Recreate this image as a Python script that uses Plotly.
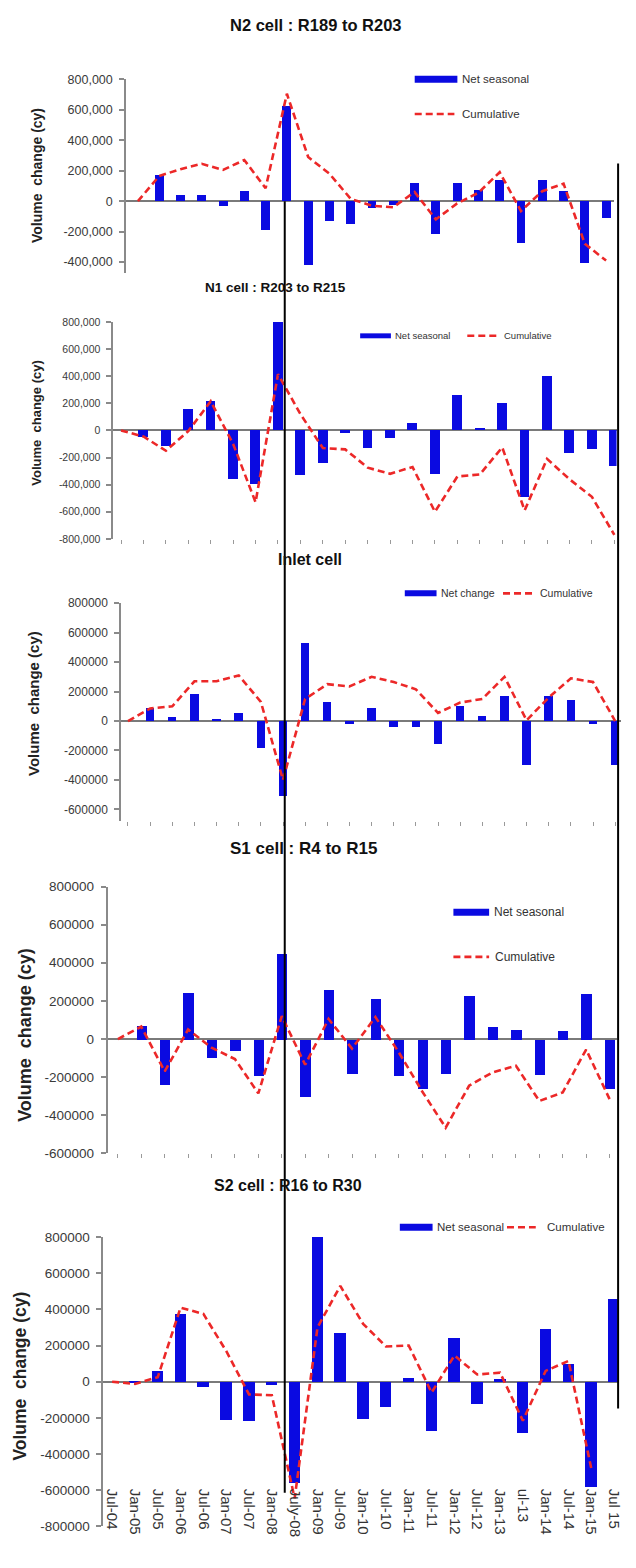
import plotly.graph_objects as go

W, H = 636, 1568

# ---------------- data ----------------
categories = ["Jul-04", "Jan-05", "Jul-05", "Jan-06", "Jul-06", "Jan-07", "Jul-07", "Jan-08",
              "July-08", "Jan-09", "Jul-09", "Jan-10", "Jul-10", "Jan-11", "Jul-11", "Jan-12",
              "Jul-12", "Jan-13", "ul-13", "Jan-14", "Jul-14", "Jan-15", "Jul 15"]

n2_net = [0, 170000, 40000, 40000, -35000, 65000, -190000, 620000, -420000, -130000, -150000,
          -50000, -30000, 120000, -215000, 115000, 70000, 140000, -280000, 135000, 65000,
          -410000, -110000]
n2_cum = [0, 165000, 210000, 245000, 205000, 270000, 85000, 705000, 290000, 180000, 15000,
          -30000, -40000, 60000, -120000, -15000, 55000, 190000, -65000, 65000, 115000,
          -280000, -390000]

n1_net = [0, -50000, -115000, 160000, 220000, -360000, -395000, 800000, -330000, -240000,
          -20000, -130000, -55000, 52000, -320000, 260000, 20000, 200000, -490000, 400000,
          -165000, -140000, -265000]
n1_cum = [0, -45000, -150000, -5000, 215000, -100000, -530000, 415000, 120000, -130000,
          -140000, -275000, -320000, -270000, -600000, -340000, -325000, -125000, -590000,
          -210000, -360000, -490000, -770000]

inlet_net = [0, 85000, 25000, 180000, 10000, 50000, -185000, -510000, 530000, 130000, -20000,
             90000, -45000, -40000, -160000, 100000, 35000, 165000, -300000, 165000, 140000,
             -20000, -300000]
inlet_cum = [0, 85000, 100000, 270000, 270000, 310000, 130000, -400000, 150000, 250000,
             235000, 300000, 265000, 215000, 55000, 125000, 150000, 300000, 5000, 160000,
             290000, 265000, 0]

s1_net = [0, 70000, -240000, 245000, -95000, -60000, -190000, 450000, -300000, 260000,
          -180000, 210000, -190000, -260000, -180000, 230000, 65000, 50000, -185000, 45000,
          240000, -260000]
s1_cum = [0, 65000, -170000, 50000, -45000, -105000, -285000, 120000, -135000, 105000,
          -50000, 115000, -70000, -275000, -465000, -245000, -175000, -140000, -325000,
          -280000, -55000, -315000]

s2_net = [0, -5000, 60000, 375000, -30000, -212000, -220000, -20000, -560000, 800000, 270000,
          -205000, -140000, 20000, -275000, 240000, -125000, 15000, -285000, 290000, 95000,
          -585000, 455000]
s2_cum = [0, -12000, 25000, 410000, 375000, 170000, -70000, -75000, -645000, 300000, 530000,
          320000, 195000, 200000, -60000, 145000, 40000, 50000, -215000, 60000, 115000,
          -480000, None]

titles = ["N2 cell : R189 to R203", "N1 cell : R203 to R215", "Inlet cell",
          "S1 cell : R4 to R15", "S2 cell : R16 to R30"]
bar_names = ["Net seasonal", "Net seasonal", "Net change", "Net seasonal", "Net seasonal"]
line_name = "Cumulative"
y_title = "Volume\u00a0\u00a0change (cy)"

ticks_n2 = [800000, 600000, 400000, 200000, 0, -200000, -400000]
labels_n2 = ["800,000", "600,000", "400,000", "200,000", "0", "-200,000", "-400,000"]
ticks_n1 = [800000, 600000, 400000, 200000, 0, -200000, -400000, -600000, -800000]
labels_n1 = ["800,000", "600,000", "400,000", "200,000", "0", "-200,000", "-400,000",
             "-600,000", "-800,000"]
ticks_inlet = [800000, 600000, 400000, 200000, 0, -200000, -400000, -600000]
labels_inlet = ["800000", "600000", "400000", "200000", "0", "-200000", "-400000", "-600000"]
ticks_s1 = [800000, 600000, 400000, 200000, 0, -200000, -400000, -600000]
labels_s1 = ["800000", "600000", "400000", "200000", "0", "-200000", "-400000", "-600000"]
ticks_s2 = [800000, 600000, 400000, 200000, 0, -200000, -400000, -600000, -800000]
labels_s2 = ["800000", "600000", "400000", "200000", "0", "-200000", "-400000", "-600000",
             "-800000"]

# ---------------- styling / layout geometry (pixels) ----------------
BLUE = "rgb(10,10,225)"
RED = "rgb(236,40,40)"
AX = "#8a8a8a"
FONT = "Liberation Sans, Arial, sans-serif"

panels = [
    dict(net=n2_net, cum=n2_cum, cats=categories, c0=139, s=21.45, r=(-0.56, 22.35),
         yr=(-470000, 800000), ypx=(268.3, 73), tv=ticks_n2, tt=labels_n2, bw=0.42,
         tickfont=12.5, xt="none"),
    dict(net=n1_net, cum=n1_cum, cats=categories, c0=122, s=22.6, r=(-0.35, 22.1),
         yr=(-800000, 800000), ypx=(537, 318), tv=ticks_n1, tt=labels_n1, bw=0.44,
         tickfont=10.5, xt="marks"),
    dict(net=inlet_net, cum=inlet_cum, cats=categories, c0=129, s=22.32, r=(-0.31, 22.27),
         yr=(-680000, 800000), ypx=(822, 602), tv=ticks_inlet, tt=labels_inlet, bw=0.38,
         tickfont=12, xt="marks"),
    dict(net=s1_net, cum=s1_cum, cats=categories[:22], c0=118.8, s=23.6, r=(-0.44, 21.3),
         yr=(-600000, 800000), ypx=(1157.5, 888), tv=ticks_s1, tt=labels_s1, bw=0.44,
         tickfont=13.5, xt="marks"),
    dict(net=s2_net, cum=s2_cum, cats=categories, c0=113, s=23.0, r=(-0.39, 22.16),
         yr=(-800000, 800000), ypx=(1534, 1242), tv=ticks_s2, tt=labels_s2, bw=0.5,
         tickfont=13.5, xt="labels"),
]

fig = go.Figure()
layout = dict(width=W, height=H, margin=dict(l=0, r=0, t=0, b=0), showlegend=False,
              paper_bgcolor="white", plot_bgcolor="white", bargap=0)

for i, p in enumerate(panels):
    k = "" if i == 0 else str(i + 1)
    xa, ya = "x" + k, "y" + k
    fig.add_trace(go.Bar(x=p["cats"], y=p["net"], width=p["bw"], marker_color=BLUE,
                         marker_line_width=0, name=bar_names[i], xaxis=xa, yaxis=ya))
    fig.add_trace(go.Scatter(x=p["cats"], y=p["cum"], mode="lines", name=line_name,
                             line=dict(color=RED, width=2.6, dash="7px,4px"),
                             connectgaps=False, xaxis=xa, yaxis=ya))
    x0 = (p["c0"] + p["r"][0] * p["s"]) / W
    x1 = (p["c0"] + p["r"][1] * p["s"]) / W
    y0 = 1 - p["ypx"][0] / H
    y1 = 1 - p["ypx"][1] / H
    xaxis = dict(domain=[x0, x1], range=list(p["r"]), type="category", anchor=ya,
                 showgrid=False, zeroline=False, showline=False, fixedrange=True)
    if p["xt"] == "none":
        xaxis.update(showticklabels=False, ticks="")
    elif p["xt"] == "marks":
        xaxis.update(showticklabels=False, ticks="outside", ticklen=4, tickwidth=1.2,
                     tickcolor="#9a9a9a")
    else:
        xaxis.update(anchor="free", position=1 - 1495 / H, ticks="", tickangle=90,
                     tickfont=dict(family=FONT, size=15, color="#333333"))
    yaxis = dict(domain=[y0, y1], range=list(p["yr"]), anchor=xa, showgrid=False,
                 zeroline=True, zerolinecolor="#7a7a7a", zerolinewidth=1.6,
                 showline=True, linecolor=AX, linewidth=1.5, ticks="outside", ticklen=5,
                 tickwidth=1.5, tickcolor=AX, tickvals=p["tv"], ticktext=p["tt"],
                 ticklabelstandoff=4,
                 tickfont=dict(family=FONT, size=p["tickfont"], color="#3a3a3a"),
                 fixedrange=True)
    layout["xaxis" + k] = xaxis
    layout["yaxis" + k] = yaxis

fig.update_layout(**layout)

def px(x):
    return x / W

def py(y):
    return 1 - y / H

ann = []
shapes = []

# panel titles
title_pos = [(318, 18, 16.5), (278, 283, 13.5), (312, 558, 16), (306, 850, 17),
             (290, 1190, 16)]
for t, (x, y, fs) in zip(titles, title_pos):
    ann.append(dict(x=px(x), y=py(y), xref="paper", yref="paper", text="<b>" + t + "</b>",
                    showarrow=False, xanchor="center", yanchor="middle",
                    font=dict(family=FONT, size=fs, color="#111111")))

# y-axis titles
ytitle_pos = [(38, 170, 14), (37, 420, 13), (34, 703, 15), (25, 1038, 18), (20, 1382, 17.5)]
for (x, y, fs) in ytitle_pos:
    ann.append(dict(x=px(x), y=py(y), xref="paper", yref="paper",
                    text="<b>" + y_title + "</b>", textangle=-90, showarrow=False,
                    xanchor="center", yanchor="middle",
                    font=dict(family=FONT, size=fs, color="#222222")))

# legends: bar swatch (x0, x1, y, height), dashed swatch (x0, x1, y), text gaps, font size
legends = [
    dict(b=(418, 461, 73, 7), l=(418, 458, 108), g=(3, 6), fs=11.5),
    dict(b=(363, 394, 332, 5), l=(471, 503, 332), g=(2, 3), fs=9.5),
    dict(b=(408, 440, 592, 6), l=(507, 539, 592), g=(2, 3), fs=10.5),
    dict(b=(457, 493, 914, 7), l=(457, 493, 959), g=(3, 4), fs=12),
    dict(b=(403, 436, 1232, 7), l=(511, 540, 1232), g=(2, 9), fs=11.5),
]
for i, lg in enumerate(legends):
    bx0, bx1, by, bh = lg["b"]
    shapes.append(dict(type="rect", xref="paper", yref="paper", x0=px(bx0), x1=px(bx1),
                       y0=py(by + bh / 2), y1=py(by - bh / 2), fillcolor=BLUE,
                       line=dict(width=0)))
    ann.append(dict(x=px(bx1 + lg["g"][0]), y=py(by), xref="paper", yref="paper",
                    text=bar_names[i], showarrow=False, xanchor="left", yanchor="middle",
                    font=dict(family=FONT, size=lg["fs"], color="#333333")))
    lx0, lx1, ly = lg["l"]
    shapes.append(dict(type="line", xref="paper", yref="paper", x0=px(lx0), x1=px(lx1),
                       y0=py(ly), y1=py(ly), line=dict(color=RED, width=2.6, dash="7px,4px")))
    ann.append(dict(x=px(lx1 + lg["g"][1]), y=py(ly), xref="paper", yref="paper",
                    text=line_name, showarrow=False, xanchor="left", yanchor="middle",
                    font=dict(family=FONT, size=lg["fs"], color="#333333")))

# overlaid vertical reference lines
shapes.append(dict(type="line", xref="paper", yref="paper", x0=px(287), x1=px(287),
                   y0=py(196), y1=py(1500), line=dict(color="black", width=2)))
shapes.append(dict(type="line", xref="paper", yref="paper", x0=px(623), x1=px(623),
                   y0=py(158), y1=py(1415), line=dict(color="black", width=2)))

fig.update_layout(annotations=ann, shapes=shapes)
fig.write_html("out.html")
